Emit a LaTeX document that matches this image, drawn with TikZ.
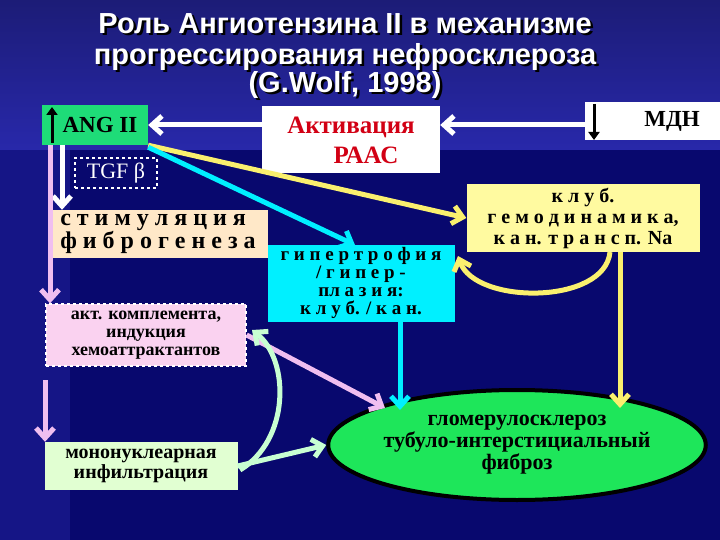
\documentclass[tikz,border=0pt]{standalone}
\usepackage{fontspec}
\setmainfont{Liberation Serif}
\newfontfamily\titlef{Liberation Sans}
\usetikzlibrary{shapes.geometric,arrows.meta,shadows}
\definecolor{bgdark}{RGB}{8,8,110}
\definecolor{bgtop}{RGB}{40,40,170}
\definecolor{angg}{RGB}{30,220,120}
\definecolor{beige}{RGB}{255,232,200}
\definecolor{pinkb}{RGB}{250,210,240}
\definecolor{lgreen}{RGB}{225,255,210}
\definecolor{cyanb}{RGB}{0,240,255}
\definecolor{yellb}{RGB}{255,250,160}
\definecolor{yline}{RGB}{250,240,110}
\definecolor{pline}{RGB}{240,190,240}
\definecolor{gline}{RGB}{200,255,210}
\definecolor{ell}{RGB}{30,230,90}
\definecolor{redt}{RGB}{210,0,20}
\begin{document}
\begin{tikzpicture}[x=1pt,y=-1pt,
  box/.style={inner sep=1pt,align=center,text=black},
  warrow/.style={line width=5pt,-{Straight Barb[length=10pt,width=18pt]}},
  titletxt/.style={text=white,font=\titlef\bfseries\fontsize{29}{31}\selectfont,align=center}]
\useasboundingbox (0,0) rectangle (720,540);
\fill[bgdark] (0,0) rectangle (720,540);
\shade[top color=bgtop!70!black,bottom color=bgtop] (0,0) rectangle (720,150);
\fill[bgtop!40!bgdark] (0,150) rectangle (70,540);
% title
\node[titletxt,text=black] at (347.5,44.5) {Роль Ангиотензина II в механизме\\прогрессирования нефросклероза};
\node[titletxt] (t1) at (345,42) {Роль Ангиотензина II в механизме\\прогрессирования нефросклероза};
\node[titletxt,text=black] at (347.5,87.5) {(G.Wolf, 1998)};
\node[titletxt] (t2) at (345,85) {(G.Wolf, 1998)};
% boxes
\node[box,fill=angg,minimum width=106pt,minimum height=40pt,font=\bfseries\fontsize{23}{23}\selectfont] (ang) at (95,125) {\hspace{10pt}ANG II};
\draw[line width=3pt,-{Triangle[length=8pt,width=11pt]}] (52,143) -- (52,107);
\node[box,fill=white,minimum width=178pt,minimum height=67pt,text=redt,font=\bfseries\fontsize{25}{30}\selectfont] (act) at (351,140) {Активация\\\hspace*{30pt}РААС};
\node[box,fill=white,minimum width=135pt,minimum height=38pt,font=\bfseries\fontsize{23}{23}\selectfont] (mdn) at (652,121) {\hspace{40pt}МДН};
\draw[line width=3pt,-{Triangle[length=8pt,width=11pt]}] (594,104) -- (594,140);
\node[box,draw=white,dashed,line width=1.5pt,text=white,minimum width=82pt,minimum height=30pt,font=\fontsize{22}{22}\selectfont] (tgf) at (116,173) {TGF β};
\node[box,fill=beige,minimum width=220pt,minimum height=48pt,font=\bfseries\fontsize{24}{22}\selectfont,align=left] (stim) at (158,234) {с т и м у л я ц и я\\ф и б р о г е н е з а};
\node[box,fill=pinkb,draw=white,dashed,line width=1.2pt,minimum width=200pt,minimum height=62pt,font=\bfseries\fontsize{18}{18}\selectfont] (pink) at (146,335) {акт. комплемента,\\индукция\\хемоаттрактантов};
\node[box,fill=lgreen,minimum width=193pt,minimum height=48pt,font=\bfseries\fontsize{20}{20}\selectfont] (mono) at (141,466) {мононуклеарная\\инфильтрация};
\node[box,fill=cyanb,minimum width=187pt,minimum height=77pt,font=\bfseries\fontsize{19}{18}\selectfont] (cyan) at (361,283) {г и п е р т р о ф и я\\/ г и п е р -\\пл а з и я:\\к л у б. / к а н.};
\node[box,fill=yellb,minimum width=233pt,minimum height=67pt,font=\bfseries\fontsize{20}{21}\selectfont] (yel) at (583,218) {к л у б.\\г е м о д и н а м и к а,\\к а н. т р а н с п. Na};
\node[ellipse,fill=ell,draw=black,line width=4pt,minimum width=306pt,minimum height=110pt,inner sep=0pt,align=center,font=\bfseries\fontsize{22}{22}\selectfont] (gl) at (517,445) {гломерулосклероз\\тубуло-интерстициальный\\фиброз};
\coordinate (a1) at (62,145); \coordinate (a2) at (50,145);
\coordinate (p0) at (45,380); \coordinate (cy) at (355,245);
\coordinate (cb) at (400,322); \coordinate (cb2) at (400,410);
\coordinate (pe) at (385,408);
\coordinate (y1) at (620,252); \coordinate (y2) at (620,408);
\coordinate (y3) at (610,252); \coordinate (y4) at (458,256);
\coordinate (m1) at (240,470); \coordinate (m2) at (252,330);
\coordinate (md) at (585,125);
% connectors
\draw[warrow,white] (md) -- (md-|act.east);
\draw[warrow,white] (act.west|-ang.east) -- (ang.east);
\draw[warrow,white] (a1) -- (a1|-stim.north);
\draw[warrow,pline] (a2) -- (a2|-pink.north);
\draw[warrow,pline] (p0) -- (p0|-mono.north);
\draw[warrow,yline] (ang.south east) -- (yel.west);
\draw[warrow,cyanb] ([yshift=-2pt]ang.south east) -- (cy);
\draw[warrow,cyanb] (cb) -- (cb2);
\draw[warrow,pline] (pink.east) -- (pe);
\draw[warrow,yline] (y1) -- (y2);
\draw[warrow,yline] (y3) .. controls (605,305) and (475,305) .. (y4);
\draw[warrow,gline] (m1) .. controls (290,440) and (290,360) .. (m2);
\draw[warrow,gline] (mono.east) -- (gl.west);
\end{tikzpicture}
\end{document}
